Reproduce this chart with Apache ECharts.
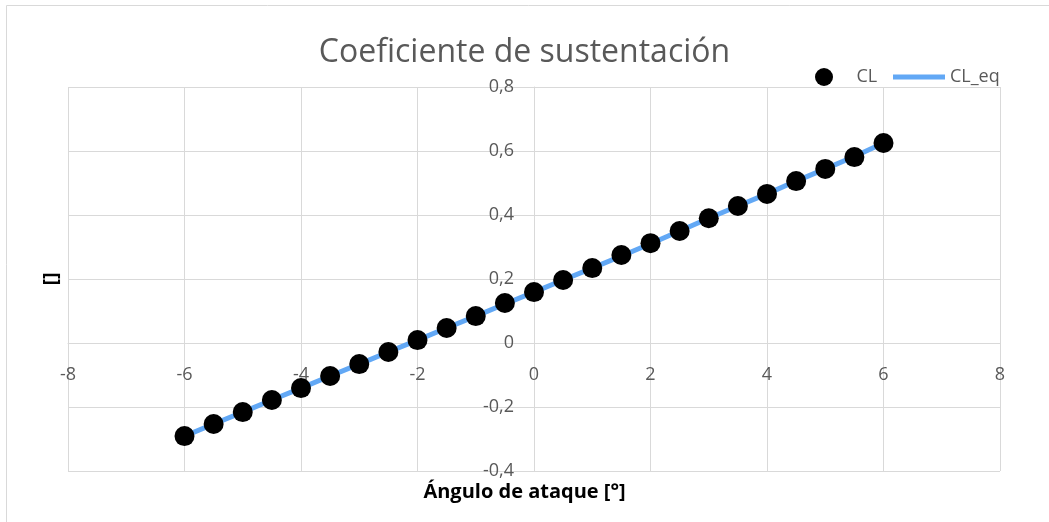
<!DOCTYPE html>
<html>
<head>
<meta charset="utf-8">
<script src="https://cdn.jsdelivr.net/npm/echarts@6/dist/echarts.min.js"></script>
<style>html,body{margin:0;padding:0;background:#fff}#c{width:1049px;height:522px}</style>
</head>
<body>
<div id="c"></div>
<script>
const angles = [-6,-5.5,-5,-4.5,-4,-3.5,-3,-2.5,-2,-1.5,-1,-0.5,0,0.5,1,1.5,2,2.5,3,3.5,4,4.5,5,5.5,6];
const clValues = [-0.291,-0.253,-0.216,-0.178,-0.141,-0.103,-0.066,-0.028,0.009,0.047,0.084,0.125,0.159,0.197,0.234,0.275,0.312,0.350,0.390,0.428,0.466,0.506,0.544,0.581,0.625];
const clEqValues = [-0.291,-0.253,-0.216,-0.178,-0.141,-0.103,-0.066,-0.028,0.009,0.047,0.084,0.122,0.159,0.197,0.234,0.272,0.310,0.350,0.390,0.428,0.466,0.506,0.544,0.583,0.625];
const titleText = 'Coeficiente de sustentación';
const xName = 'Ángulo de ataque [°]';
const yName = '[]';

const chart = echarts.init(document.getElementById('c'), null, {renderer: 'canvas'});
const fmt = v => (Math.abs(v) < 1e-9 ? '0' : (Number.isInteger(v) ? String(v) : v.toFixed(1).replace('.', ',')));
const font = '"Open Sans", "Noto Sans", sans-serif';
const gridL = 68, gridR = 49, gridT = 87, gridB = 51;
const W = 1049, H = 522;
const xMin = -8, xMax = 8, yMin = -0.4, yMax = 0.8;
// place axes at zero crossing via offsets derived from axis ranges
const plotW = W - gridL - gridR, plotH = H - gridT - gridB;
const xAxisOffset = -plotH * (0 - yMin) / (yMax - yMin);
const yAxisOffset = -plotW * (0 - xMin) / (xMax - xMin);
chart.setOption({
  animation: false,
  textStyle: {fontFamily: font},
  title: {
    text: titleText, left: 'center', top: 32,
    textStyle: {fontSize: 32, fontWeight: 'normal', color: '#595959', fontFamily: font}
  },
  legend: [
    {
      left: 810, top: 63, itemWidth: 55, itemHeight: 18,
      textStyle: {fontSize: 18, color: '#595959'},
      data: [{name: 'CL', icon: 'circle', itemStyle: {color: '#000', opacity: 1}}]
    },
    {
      left: 888, top: 63, itemWidth: 52, itemHeight: 18,
      textStyle: {fontSize: 18, color: '#595959'},
      data: [{name: 'CL_eq', icon: 'path://M0,0h52v5h-52z', itemStyle: {color: '#62a8f5'}}]
    }
  ],
  grid: {left: gridL, right: gridR, top: gridT, bottom: gridB, containLabel: false},
  xAxis: {
    type: 'value', min: xMin, max: xMax, interval: 2, position: 'bottom', offset: xAxisOffset,
    axisLine: {onZero: false, lineStyle: {color: '#d9d9d9'}},
    axisTick: {show: false},
    axisLabel: {fontSize: 18, color: '#595959', margin: 23, formatter: fmt},
    splitLine: {show: true, lineStyle: {color: '#d9d9d9'}}
  },
  yAxis: {
    type: 'value', min: yMin, max: yMax, interval: 0.2, position: 'left', offset: yAxisOffset,
    axisLine: {onZero: false, lineStyle: {color: '#d9d9d9'}},
    axisTick: {show: false},
    axisLabel: {fontSize: 18, color: '#595959', margin: 20, formatter: fmt},
    splitLine: {show: true, lineStyle: {color: '#d9d9d9'}}
  },
  graphic: [
    {type: 'rect', shape: {x: 6.5, y: 5.5, width: 1100, height: 700}, style: {fill: null, stroke: '#d9d9d9', lineWidth: 1}, silent: true, z: -10},
    {type: 'text', left: 'center', top: 482, style: {text: xName, fontSize: 20, fontWeight: 'bold', fill: '#000', fontFamily: font}},
    {type: 'text', x: 51, y: 279, rotation: Math.PI / 2, style: {text: yName, fontSize: 20, fontWeight: 'bold', fill: '#000', fontFamily: font, align: 'center', verticalAlign: 'middle'}}
  ],
  series: [
    {
      name: 'CL_eq', type: 'line', data: angles.map((a, i) => [a, clEqValues[i]]),
      showSymbol: false, symbol: 'none', lineStyle: {color: '#62a8f5', width: 5}, itemStyle: {color: '#62a8f5'}, z: 2
    },
    {
      name: 'CL', type: 'scatter', data: angles.map((a, i) => [a, clValues[i]]),
      symbol: 'circle', symbolSize: 20, itemStyle: {color: '#000', opacity: 1}, z: 3
    }
  ]
});
</script>
</body>
</html>
